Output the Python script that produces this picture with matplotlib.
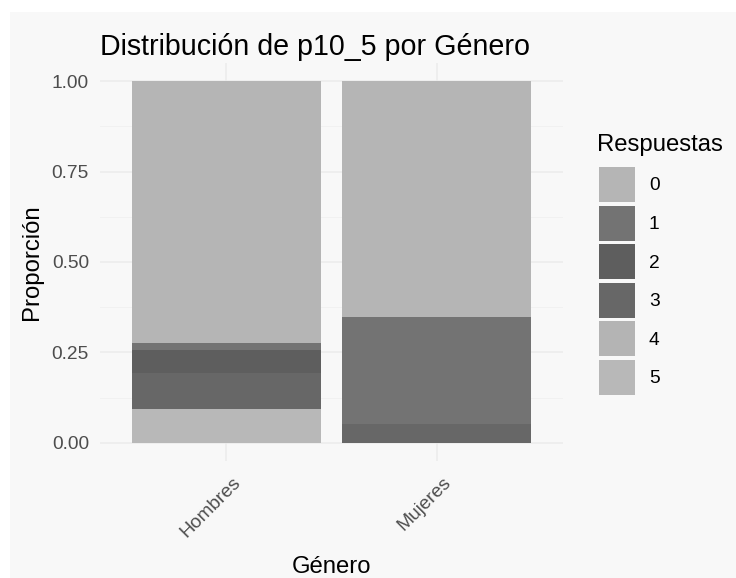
import matplotlib
matplotlib.use("Agg")
import matplotlib.pyplot as plt
import matplotlib.patches as mpatches
import matplotlib.transforms as mtransforms
import numpy as np

plt.rcParams['font.family'] = ['Liberation Sans', 'DejaVu Sans']

# datos (proporciones por genero)
generos = ["Hombres", "Mujeres"]
respuestas = ["0", "1", "2", "3", "4", "5"]
prop_hombres = [0.725, 0.018, 0.063, 0.101, 0.0, 0.093]
prop_mujeres = [0.651, 0.297, 0.0, 0.052, 0.0, 0.0]
colores = ["#b5b5b5", "#737373", "#5e5e5e", "#676767", "#b4b4b4", "#b8b8b8"]

W, H = 736, 578
fig = plt.figure(figsize=(W / 100, H / 100), dpi=100, facecolor="white")
# fondo gris claro, con borde blanco arriba e izquierda
fig.patches.append(mpatches.Rectangle((10 / W, 0), 1, 1 - 12 / H, transform=fig.transFigure,
                                      facecolor="#f8f8f8", edgecolor="none", zorder=-10))

ax = fig.add_axes([100 / W, 117 / H, 463 / W, 398 / H])
ax.set_facecolor("#f8f8f8")

props = np.array([prop_hombres, prop_mujeres])
x = np.arange(len(generos)) + 1
# apilado como ggplot position="fill": el nivel 0 arriba
bottom = np.zeros(len(generos))
for i in reversed(range(len(respuestas))):
    ax.bar(x, props[:, i], bottom=bottom, width=0.9, color=colores[i], linewidth=0, zorder=2)
    bottom += props[:, i]

ax.set_xlim(0.4, 2.6)
ax.set_ylim(-0.05, 1.05)
ax.set_yticks([0, 0.25, 0.5, 0.75, 1.0])
ax.set_yticks([0.125, 0.375, 0.625, 0.875], minor=True)
ax.set_yticklabels(["0.00", "0.25", "0.50", "0.75", "1.00"])
ax.set_xticks(x)
ax.set_xticklabels(generos, rotation=45, ha="right", va="top", rotation_mode="anchor")

ax.grid(which="major", color="#ebebeb", linewidth=1.1, zorder=0)
ax.grid(which="minor", axis="y", color="#f0f0f0", linewidth=0.6, zorder=0)
ax.set_axisbelow(True)
for s in ax.spines.values():
    s.set_visible(False)
ax.tick_params(axis="both", which="both", length=0, labelsize=13.8, labelcolor="#4d4d4d")
ax.tick_params(axis="y", pad=8)
ax.tick_params(axis="x", pad=9.5)
offset = mtransforms.ScaledTranslation(6 / 100, 0, fig.dpi_scale_trans)
for lab in ax.get_xticklabels():
    lab.set_transform(lab.get_transform() + offset)

ax.set_ylabel("Proporción", fontsize=17.2, labelpad=6)
ax.set_xlabel("Género", fontsize=17.2, labelpad=11)
ax.set_title("Distribución de p10_5 por Género", fontsize=20.6, loc="left", pad=5.5)

# leyenda: titulo aparte para controlar el espacio
fig.text(597 / W, 1 - 145 / H, "Respuestas", fontsize=17.2, ha="left", va="center")
handles = [mpatches.Patch(facecolor=c, edgecolor="none") for c in colores]
leg = fig.legend(handles, respuestas, loc="upper left",
                 bbox_to_anchor=(599 / W, 1 - 167 / H), frameon=False, fontsize=13.8,
                 handlelength=1.875, handleheight=2.43,
                 labelspacing=0.19, handletextpad=0.73, borderpad=0, borderaxespad=0)

fig.savefig("out.png", dpi=100, facecolor="white")
